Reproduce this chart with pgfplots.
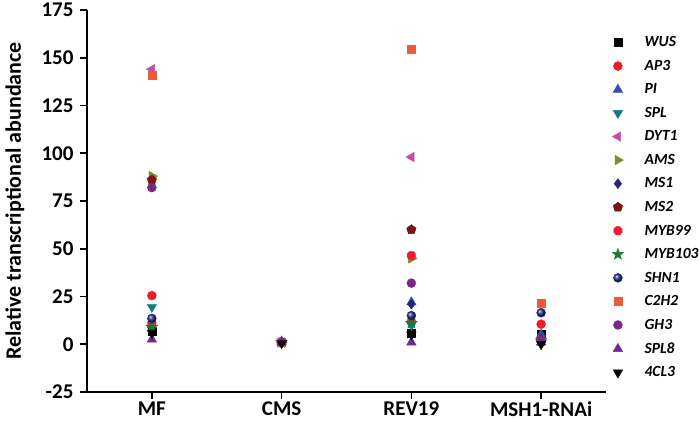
\documentclass[border=0pt]{standalone}
\usepackage{fontspec}
\setmainfont{Carlito}
\usepackage{pgfplots}
\pgfplotsset{compat=1.18}
\definecolor{cWUS}{HTML}{000000}
\definecolor{cAP}{HTML}{EE1C25}
\definecolor{cPI}{HTML}{3A4FA8}
\definecolor{cSPL}{HTML}{0E7F7F}
\definecolor{cDYT}{HTML}{C050A8}
\definecolor{cAMS}{HTML}{86862E}
\definecolor{cMSa}{HTML}{262676}
\definecolor{cMSb}{HTML}{7A1518}
\definecolor{cMYB}{HTML}{EE1C30}
\definecolor{cMYC}{HTML}{1A7A38}
\definecolor{cSHN}{HTML}{263080}
\definecolor{cC2H}{HTML}{EE5A3C}
\definecolor{cGH}{HTML}{7A2882}
\definecolor{cSPLb}{HTML}{6E2A8C}
\pgfdeclareplotmark{octagon}{%
  \pgfpathmoveto{\pgfpointpolar{22.5}{\pgfplotmarksize}}%
  \pgfpathlineto{\pgfpointpolar{67.5}{\pgfplotmarksize}}%
  \pgfpathlineto{\pgfpointpolar{112.5}{\pgfplotmarksize}}%
  \pgfpathlineto{\pgfpointpolar{157.5}{\pgfplotmarksize}}%
  \pgfpathlineto{\pgfpointpolar{202.5}{\pgfplotmarksize}}%
  \pgfpathlineto{\pgfpointpolar{247.5}{\pgfplotmarksize}}%
  \pgfpathlineto{\pgfpointpolar{292.5}{\pgfplotmarksize}}%
  \pgfpathlineto{\pgfpointpolar{337.5}{\pgfplotmarksize}}%
  \pgfpathclose\pgfusepathqfillstroke}
\pgfdeclareplotmark{fstar}{%
  \pgfpathmoveto{\pgfpointpolar{90}{\pgfplotmarksize}}%
  \pgfpathlineto{\pgfpointpolar{126}{0.42\pgfplotmarksize}}%
  \pgfpathlineto{\pgfpointpolar{162}{\pgfplotmarksize}}%
  \pgfpathlineto{\pgfpointpolar{198}{0.42\pgfplotmarksize}}%
  \pgfpathlineto{\pgfpointpolar{234}{\pgfplotmarksize}}%
  \pgfpathlineto{\pgfpointpolar{270}{0.42\pgfplotmarksize}}%
  \pgfpathlineto{\pgfpointpolar{306}{\pgfplotmarksize}}%
  \pgfpathlineto{\pgfpointpolar{342}{0.42\pgfplotmarksize}}%
  \pgfpathlineto{\pgfpointpolar{18}{\pgfplotmarksize}}%
  \pgfpathlineto{\pgfpointpolar{54}{0.42\pgfplotmarksize}}%
  \pgfpathclose\pgfusepathqfillstroke}
\begin{document}
\begin{tikzpicture}
\path[use as bounding box] (-87pt,-30pt) rectangle (613pt,392pt);
\begin{axis}[
  scale only axis, width=519pt, height=382pt,
  xmin=-0.5, xmax=3.5, ymin=-25, ymax=175,
  axis x line=bottom, axis y line=left,
  axis line style={line width=1.6pt, -},
  xtick={0,1,2,3}, xticklabels={MF,CMS,REV19,MSH1-RNAi},
  ytick={-25,0,25,50,75,100,125,150,175},
  tick align=outside, major tick length=7pt,
  tick style={line width=1.6pt, black},
  /pgf/number format/assume math mode=true,
  ticklabel style={font=\fontsize{21}{24}\selectfont\bfseries},
  xticklabel style={font=\fontsize{21}{24}\selectfont\bfseries, yshift=0.5pt},
  yticklabel style={xshift=-3pt},
  ylabel={Relative transcriptional abundance},
  ylabel style={font=\fontsize{22}{25}\selectfont\bfseries, at={(axis description cs:-0.139,0.5)}, anchor=center},
  only marks,
  legend style={draw=none, fill=none, at={(1,1)}, anchor=north west, xshift=6pt, yshift=-25.5pt,
    font=\fontsize{15.5}{17}\selectfont\bfseries\itshape, row sep=9.9pt, column sep=20pt, inner sep=0pt,
    nodes={inner sep=1pt}},
  legend cell align=left,
  mark size=4.5pt,
]
\addplot[cWUS, mark=square*, mark size=4pt] coordinates {(0,7)(1,1)(2,6)(3,5.5)};
\addlegendentry{WUS}
\addplot[cAP, mark=*] coordinates {(0,25.5)(1,1)(2,12)(3,10.5)};
\addlegendentry{AP3}
\addplot[cPI, mark=triangle*, mark size=5.5pt] coordinates {(0,10)(1,1.5)(2,22)(3,5)};
\addlegendentry{PI}
\addplot[cSPL, mark=triangle*, mark size=5.5pt, mark options={rotate=180}] coordinates {(0,19.5)(1,1)(2,10)(3,2)};
\addlegendentry{SPL}
\addplot[cAMS, mark=triangle*, mark size=5.5pt, mark options={rotate=-90}, forget plot] coordinates {(0,88)(1,1)(2,45)(3,2)};
\addplot[cDYT, mark=triangle*, mark size=5.5pt, mark options={rotate=90}] coordinates {(0,144)(1,1)(2,98)(3,2)};
\addlegendentry{DYT1}
\addplot[cAMS, mark=triangle*, mark size=5.5pt, mark options={rotate=-90}] coordinates {(0,88)(1,1)(2,45)(3,2)};
\addlegendentry{AMS}
\addplot[cMSa, mark=diamond*, mark size=5pt] coordinates {(0,12)(1,1)(2,21)(3,3)};
\addlegendentry{MS1}
\addplot[cMSb, mark=pentagon*, mark size=5pt] coordinates {(0,86)(1,1)(2,60)(3,2)};
\addlegendentry{MS2}
\addplot[cMYB, mark=octagon] coordinates {(0,11)(1,1)(2,46.5)(3,2)};
\addlegendentry{MYB99}
\addplot[cMYC, mark=fstar, mark size=6pt] coordinates {(0,9)(1,1)(2,11)(3,2)};
\addlegendentry{MYB103}
\addplot[cSHN, mark=ball, mark options={ball color=cSHN, draw=none}] coordinates {(0,13.5)(1,1)(2,15)(3,16.5)};
\addlegendentry{SHN1}
\addplot[cC2H, mark=square*, mark size=4pt] coordinates {(0,141)(1,1)(2,154.5)(3,21.5)};
\addlegendentry{C2H2}
\addplot[cGH, mark=*] coordinates {(0,82)(1,1)(2,32)(3,2)};
\addlegendentry{GH3}
\addplot[cSPLb, mark=triangle*, mark size=5.5pt] coordinates {(0,2.5)(1,1)(2,1)(3,1)};
\addlegendentry{SPL8}
\addplot[cWUS, mark=triangle*, mark size=5.5pt, mark options={rotate=180}] coordinates {(0,6)(1,0.5)(2,5)(3,0)};
\addlegendentry{4CL3}
\end{axis}
\end{tikzpicture}
\end{document}
